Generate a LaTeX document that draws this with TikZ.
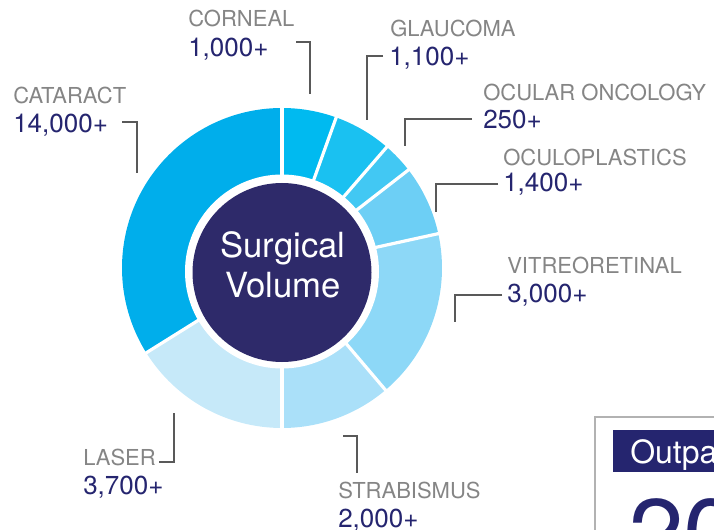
\documentclass[tikz,border=0pt]{standalone}
\usepackage{fontspec}
\setmainfont{TeX Gyre Heros}
\definecolor{navy}{HTML}{2E2A6A}
\definecolor{numblue}{HTML}{25256F}
\definecolor{labgray}{HTML}{858585}
\definecolor{cataract}{HTML}{00AEEB}
\definecolor{corneal}{HTML}{00BAF0}
\definecolor{glaucoma}{HTML}{1AC1F1}
\definecolor{oncology}{HTML}{42C8F3}
\definecolor{oculopl}{HTML}{6DCFF5}
\definecolor{vitreo}{HTML}{8DD8F7}
\definecolor{strab}{HTML}{AAE0F9}
\definecolor{laser}{HTML}{C6E9F9}
\begin{document}
\begin{tikzpicture}[x=0.75pt, y=0.75pt,
    lbl/.style={anchor=base west, inner sep=0pt, text=labgray, font=\fontsize{16.5}{18}\selectfont},
    val/.style={anchor=base west, inner sep=0pt, text=numblue, font=\fontsize{19.5}{22}\selectfont},
    leader/.style={draw=black!65, line width=1pt},
    cutline/.style={draw=white, line width=2.4pt}]
    \clip (0,0) rectangle (714,529);

    % donut
    \begin{scope}[shift={(282,261)}]
        \fill[cataract] (0,0) -- (90:160) arc[start angle=90, end angle=212, radius=160] -- cycle;
        \fill[laser] (0,0) -- (212:160) arc[start angle=212, end angle=270, radius=160] -- cycle;
        \fill[strab] (0,0) -- (-90:160) arc[start angle=-90, end angle=-49.7, radius=160] -- cycle;
        \fill[vitreo] (0,0) -- (-49.7:160) arc[start angle=-49.7, end angle=12.4, radius=160] -- cycle;
        \fill[oculopl] (0,0) -- (12.4:160) arc[start angle=12.4, end angle=37.8, radius=160] -- cycle;
        \fill[oncology] (0,0) -- (37.8:160) arc[start angle=37.8, end angle=49.1, radius=160] -- cycle;
        \fill[glaucoma] (0,0) -- (49.1:160) arc[start angle=49.1, end angle=70.2, radius=160] -- cycle;
        \fill[corneal] (0,0) -- (70.2:160) arc[start angle=70.2, end angle=90, radius=160] -- cycle;
        \foreach \a in {90,70.2,49.1,37.8,12.4,-49.7,-90,-148}
            \draw[cutline] (0,0) -- (\a:163);
        \fill[white] (0,-3.5) circle (97);
        \fill[navy] (0,-4.5) circle (89.5);
    \end{scope}
    \node[anchor=base, inner sep=0pt, text=white, font=\fontsize{26}{30}\selectfont] (surg1) at (283,271) {Surgical};
    \node[anchor=base, inner sep=0pt, text=white, font=\fontsize{26}{30}\selectfont] (surg2) at (283,231) {Volume};

    % labels
    \node[lbl] (corneal) at (188,502) {CORNEAL};
    \node[val] (corneal-n) at (188,472) {1,000+};
    \node[lbl] (cataract) at (13,425) {CATARACT};
    \node[val] (cataract-n) at (13,396) {14,000+};
    \node[lbl] (glaucoma) at (390,492) {GLAUCOMA};
    \node[val] (glaucoma-n) at (389,463) {1,100+};
    \node[lbl] (oncology) at (483,428) {OCULAR ONCOLOGY};
    \node[val] (oncology-n) at (483,400) {250+};
    \node[lbl] (oculopl) at (503,363) {OCULOPLASTICS};
    \node[val] (oculopl-n) at (503,337) {1,400+};
    \node[lbl] (vitreo) at (507,255) {VITREORETINAL};
    \node[val] (vitreo-n) at (507,226) {3,000+};
    \node[lbl] (laser) at (83,64) {LASER};
    \node[val] (laser-n) at (83,35) {3,700+};
    \node[lbl] (strab) at (338,31) {STRABISMUS};
    \node[val] (strab-n) at (338,2) {2,000+};

    % leaders
    \coordinate (corneal-a) at (296,487);   \coordinate (corneal-b) at (310,435);
    \coordinate (cataract-a) at (122,407);  \coordinate (cataract-b) at (137,356);
    \coordinate (glaucoma-a) at (383,473);  \coordinate (glaucoma-b) at (367,409);
    \coordinate (oncology-a) at (472,410);  \coordinate (oncology-b) at (405,383);
    \coordinate (oculopl-a) at (498,345);   \coordinate (oculopl-b) at (436,317);
    \coordinate (vitreo-a) at (502,234);    \coordinate (vitreo-b) at (455,207);
    \coordinate (laser-a) at (159,67);      \coordinate (laser-b) at (174,116);
    \coordinate (strab-a) at (343,93);      \coordinate (strab-b) at (357,56);
    \foreach \n in {corneal,cataract,glaucoma,oncology,oculopl,vitreo,laser,strab}
        \draw[leader] (\n-a) -| (\n-b);

    % outpatient panel (cut off)
    \draw[draw=black!30, line width=1.2pt] (595,112) rectangle (740,-20);
    \node[fill=numblue, anchor=north west, minimum width=110pt, minimum height=31.5pt, inner sep=0pt] (outhead) at (613,99) {};
    \node[anchor=base west, inner sep=0pt, text=white, font=\fontsize{24}{28}\selectfont] (outtitle) at (630,66) {Outpatient};
    \node[anchor=base west, inner sep=0pt, text=numblue, font=\fontsize{75}{80}\selectfont] (outvalue) at (628,-40) {20};
\end{tikzpicture}
\end{document}
